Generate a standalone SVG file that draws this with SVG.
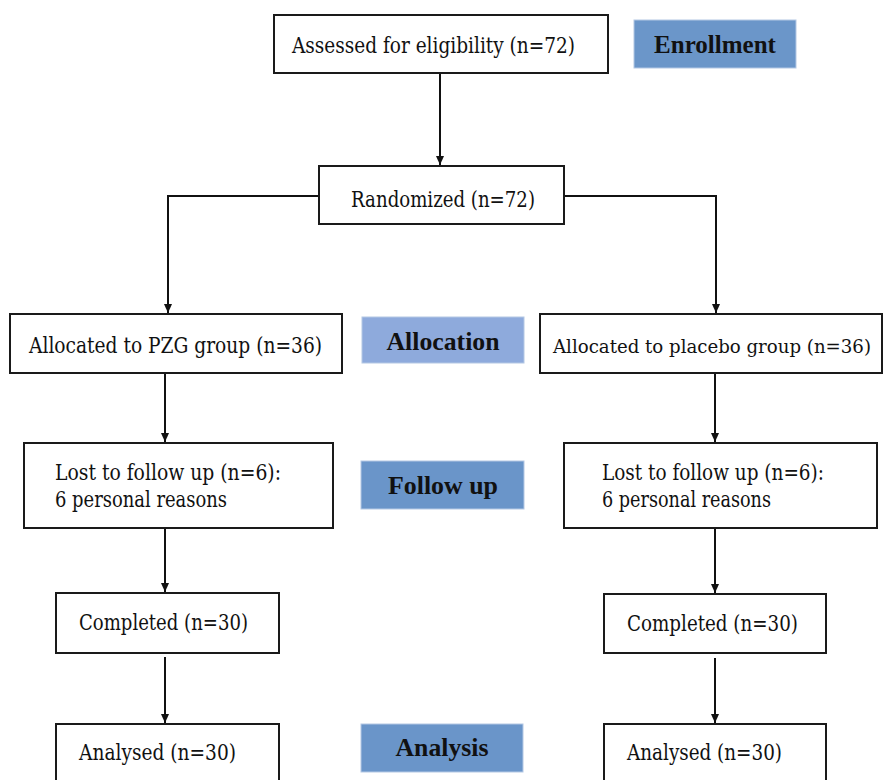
<svg xmlns="http://www.w3.org/2000/svg" width="884" height="780" viewBox="0 0 884 780">
<defs>
<marker id="arr" markerUnits="userSpaceOnUse" markerWidth="10" markerHeight="10" refX="9" refY="4" orient="auto">
<path d="M0,0 L9,4 L0,8 Z" fill="#111"/>
</marker>
<style>
.box{fill:#fff;stroke:#1a1a1a;stroke-width:2}
.lab{stroke:#b4c8e4;stroke-width:1}
.t{font-family:'DejaVu Serif Condensed','DejaVu Serif',serif;font-size:22px;fill:#111}
.b{font-family:'Liberation Serif',serif;font-size:25px;font-weight:700;fill:#111}
.c{fill:none;stroke:#111;stroke-width:2}
</style>
</defs>
<rect width="884" height="780" fill="#fff"/>
<g id="connectors">
<path class="c" d="M440,74 V165" marker-end="url(#arr)"/>
<path class="c" d="M319,196 H168 V313" marker-end="url(#arr)"/>
<path class="c" d="M564,196 H716 V313" marker-end="url(#arr)"/>
<path class="c" d="M165,374 V442" marker-end="url(#arr)"/>
<path class="c" d="M715,374 V442" marker-end="url(#arr)"/>
<path class="c" d="M165,529 V592" marker-end="url(#arr)"/>
<path class="c" d="M715,529 V593" marker-end="url(#arr)"/>
<path class="c" d="M165,657 V723" marker-end="url(#arr)"/>
<path class="c" d="M715,658 V723" marker-end="url(#arr)"/>
</g>
<g id="assessed"><rect class="box" x="274" y="15" width="334" height="58"/><text class="t" x="292" y="53" textLength="283" lengthAdjust="spacingAndGlyphs">Assessed for eligibility (n=72)</text></g>
<g id="enrollment"><rect class="lab" x="634" y="20" width="162" height="48" fill="#6b96c9"/><text class="b" x="715" y="53" text-anchor="middle">Enrollment</text></g>
<g id="randomized"><rect class="box" x="319" y="166" width="245" height="58"/><text class="t" x="351" y="207" textLength="184" lengthAdjust="spacingAndGlyphs">Randomized (n=72)</text></g>
<g id="alloc-pzg"><rect class="box" x="10" y="314" width="332" height="59"/><text class="t" x="29" y="353" textLength="293" lengthAdjust="spacingAndGlyphs">Allocated to PZG group (n=36)</text></g>
<g id="allocation"><rect class="lab" x="362" y="317" width="162" height="46" fill="#8eaadc"/><text class="b" x="443" y="350" text-anchor="middle" textLength="113" lengthAdjust="spacingAndGlyphs">Allocation</text></g>
<g id="alloc-placebo"><rect class="box" x="540" y="314" width="342" height="59"/><text class="t" x="553" y="353" style="font-size:19px" textLength="318" lengthAdjust="spacingAndGlyphs">Allocated to placebo group (n=36)</text></g>
<g id="lost-pzg"><rect class="box" x="24" y="443" width="309" height="85"/><text class="t" x="55" y="480" textLength="226" lengthAdjust="spacingAndGlyphs">Lost to follow up (n=6):</text><text class="t" x="55" y="507" textLength="172" lengthAdjust="spacingAndGlyphs">6 personal reasons</text></g>
<g id="followup"><rect class="lab" x="361" y="461" width="163" height="48" fill="#6a95c9"/><text class="b" x="443" y="494" text-anchor="middle" textLength="110" lengthAdjust="spacingAndGlyphs">Follow up</text></g>
<g id="lost-placebo"><rect class="box" x="564" y="443" width="313" height="85"/><text class="t" x="602" y="480" textLength="222" lengthAdjust="spacingAndGlyphs">Lost to follow up (n=6):</text><text class="t" x="602" y="507" textLength="169" lengthAdjust="spacingAndGlyphs">6 personal reasons</text></g>
<g id="completed-pzg"><rect class="box" x="56" y="593" width="223" height="60"/><text class="t" x="79" y="630" textLength="169" lengthAdjust="spacingAndGlyphs">Completed (n=30)</text></g>
<g id="completed-placebo"><rect class="box" x="604" y="594" width="222" height="59"/><text class="t" x="627" y="631" textLength="171" lengthAdjust="spacingAndGlyphs">Completed (n=30)</text></g>
<g id="analysed-pzg"><rect class="box" x="56" y="724" width="223" height="70"/><text class="t" x="79" y="760" textLength="157" lengthAdjust="spacingAndGlyphs">Analysed (n=30)</text></g>
<g id="analysis"><rect class="lab" x="361" y="724" width="162" height="48" fill="#6a95c9"/><text class="b" x="442" y="756" text-anchor="middle" textLength="93" lengthAdjust="spacingAndGlyphs">Analysis</text></g>
<g id="analysed-placebo"><rect class="box" x="604" y="724" width="222" height="70"/><text class="t" x="627" y="760" textLength="155" lengthAdjust="spacingAndGlyphs">Analysed (n=30)</text></g>
</svg>
